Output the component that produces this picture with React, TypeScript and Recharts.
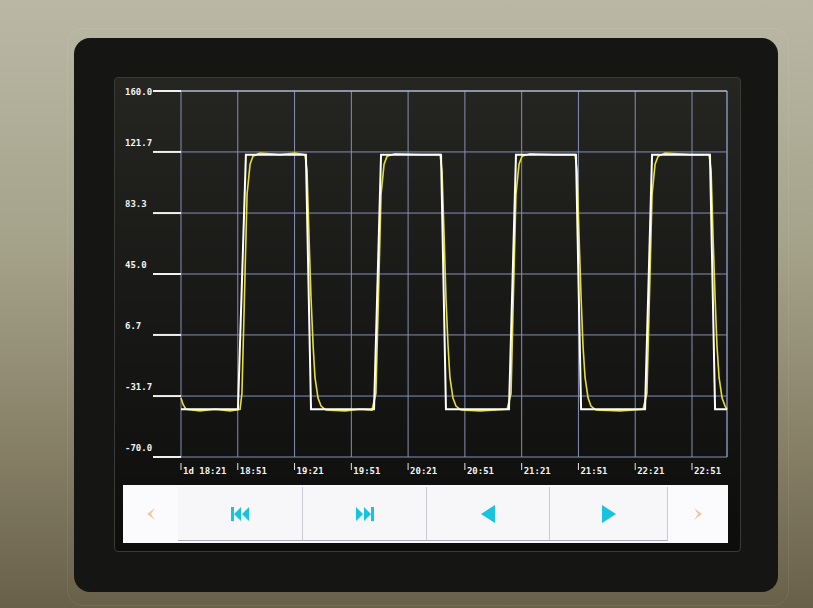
import React from 'react';
import { LineChart, Line, XAxis, YAxis, CartesianGrid, ReferenceLine } from 'recharts';

// time axis: one grid step = 30
const xTicks = [0, 30, 60, 90, 120, 150, 180, 210, 240, 270];
const xTickLabels = ['1d 18:21', '18:51', '19:21', '19:51', '20:21', '20:51', '21:21', '21:51', '22:21', '22:51'];
const yTicks = [-70, -31.7, 6.7, 45, 83.3, 121.7, 160];
const yTickLabels = ['-70.0', '-31.7', '6.7', '45.0', '83.3', '121.7', '160.0'];

// setpoint (white)
const spTimes = [0, 30.1, 34.3, 66.0, 68.7, 102.0, 105.7, 137.4, 140.0, 173.3, 177.0, 208.7, 211.4, 245.2, 248.9, 279.5, 282.2, 288.5];
const spValues = [-40, -40, 120, 120, -40, -40, 120, 120, -40, -40, 120, 120, -40, -40, 120, 120, -40, -40];

// process value (yellow)
const pvTimes = [
  0, 1.1, 2.6, 10.0, 18.0, 25.9, 31.2, 32.2, 33.3, 34.9, 36.5, 38.0, 41.7, 52.3, 60.2, 65.5,
  66.6, 67.6, 68.7, 69.8, 70.8, 72.4, 74.0, 76.6, 86.7, 94.6, 100.9,
  103.0, 104.1, 105.7, 107.3, 108.9, 113.1, 126.3, 136.9,
  137.9, 139.0, 140.0, 141.1, 142.1, 143.7, 145.3, 148.0, 158.0, 172.3,
  174.4, 175.4, 177.0, 178.6, 180.2, 184.4, 197.6, 208.2,
  209.3, 210.3, 211.4, 212.4, 213.5, 215.1, 216.6, 219.3, 232.0, 244.1,
  246.2, 247.3, 248.9, 250.5, 252.1, 255.8, 269.0, 279.0,
  280.1, 281.1, 282.2, 283.2, 284.3, 285.9, 287.5, 288.5,
];
const pvValues = [
  -33, -37, -40, -41, -40, -41, -40, -30, 20, 95, 114, 119, 121, 120, 121, 120,
  110, 70, 30, 0, -20, -33, -38, -40.5, -41, -40, -40.5,
  -30, 20, 95, 114, 119, 120.5, 120, 120,
  110, 70, 30, 0, -20, -33, -38, -40.5, -41, -40,
  -30, 20, 95, 114, 119, 120.5, 120, 120,
  110, 70, 30, 0, -20, -33, -38, -40.5, -41, -40,
  -30, 20, 95, 114, 119, 121, 120, 120,
  110, 70, 30, 0, -20, -33, -38, -40,
];

const spData = spTimes.map((t, i) => ({ t, v: spValues[i] }));
const pvData = pvTimes.map((t, i) => ({ t, v: pvValues[i] }));

const MONO = '"DejaVu Sans Mono", monospace';

const YTick = (props: any) => {
  const { y, index } = props;
  const top = index === yTicks.length - 1;
  return (
    <text x={10} y={top ? y + 4 : y - 6} fill="#f4f4f4" fontSize={9} fontWeight="bold" fontFamily={MONO} textAnchor="start">
      {yTickLabels[index]}
    </text>
  );
};

const XTick = (props: any) => {
  const { x, y, index } = props;
  return (
    <g>
      <line x1={x} x2={x} y1={y - 2} y2={y + 5} stroke="#e8e8e8" strokeWidth={1} />
      <text x={x + 2} y={y + 9} fill="#f4f4f4" fontSize={9} fontWeight="bold" fontFamily={MONO} textAnchor="start">
        {xTickLabels[index]}
      </text>
    </g>
  );
};

const Arrow = ({ dir }: { dir: 'left' | 'right' }) => (
  <svg width={12} height={14} viewBox="0 0 12 14">
    <path d={dir === 'left' ? 'M10 1 L2 7 L10 13 L6 7 Z' : 'M2 1 L10 7 L2 13 L6 7 Z'} fill="#f2c99e" />
  </svg>
);

const Icon = ({ kind }: { kind: 'first' | 'last' | 'prev' | 'next' }) => {
  const c = '#17c4e0';
  if (kind === 'first')
    return (
      <svg width={20} height={16} viewBox="0 0 20 16">
        <rect x={1} y={1} width={3} height={14} fill={c} />
        <path d="M11 1 L4 8 L11 15 Z M19 1 L12 8 L19 15 Z" fill={c} />
      </svg>
    );
  if (kind === 'last')
    return (
      <svg width={20} height={16} viewBox="0 0 20 16">
        <path d="M1 1 L8 8 L1 15 Z M9 1 L16 8 L9 15 Z" fill={c} />
        <rect x={16} y={1} width={3} height={14} fill={c} />
      </svg>
    );
  if (kind === 'prev')
    return (
      <svg width={16} height={18} viewBox="0 0 16 18">
        <path d="M15 0 L1 9 L15 18 Z" fill={c} />
      </svg>
    );
  return (
    <svg width={16} height={18} viewBox="0 0 16 18">
      <path d="M1 0 L15 9 L1 18 Z" fill={c} />
    </svg>
  );
};

const btn = (left: number, width: number): React.CSSProperties => ({
  position: 'absolute',
  left,
  top: 2,
  width,
  height: 54,
  background: '#f7f7f9',
  borderRight: '1px solid #c9cad4',
  borderBottom: '1px solid #a9abb8',
  display: 'flex',
  alignItems: 'center',
  justifyContent: 'center',
  boxSizing: 'border-box',
});

export default function App() {
  return (
    <div
      style={{
        position: 'fixed',
        left: 0,
        top: 0,
        width: 813,
        height: 608,
        overflow: 'hidden',
        background: 'linear-gradient(180deg, #bab7a5 0%, #a6a38b 40%, #857e65 75%, #686049 100%)',
      }}
    >
      <div style={{ position: 'absolute', left: 67, top: 28, width: 720, height: 576, border: '1px solid rgba(255,255,255,0.07)', borderRadius: 16 }} />
      <div style={{ position: 'absolute', left: 74, top: 38, width: 704, height: 554, background: '#151513', borderRadius: 16 }} />
      <div
        style={{
          position: 'absolute',
          left: 114,
          top: 77,
          width: 627,
          height: 475,
          borderRadius: 4,
          border: '1px solid #3a3a37',
          boxSizing: 'border-box',
          background: 'linear-gradient(180deg, #252522 0%, #191917 45%, #0d0d0c 100%)',
        }}
      />
      <div style={{ position: 'absolute', left: 115, top: 78 }}>
        <LineChart width={625} height={405} margin={{ top: 13, right: 13, left: 0, bottom: 0 }}>
          <CartesianGrid stroke="#8590b4" strokeWidth={1} />
          <XAxis
            type="number"
            dataKey="t"
            domain={[0, 288.5]}
            ticks={xTicks}
            interval={0}
            height={26}
            axisLine={false}
            tickLine={false}
            tick={<XTick />}
          />
          <YAxis
            type="number"
            domain={[-70, 160]}
            ticks={yTicks}
            interval={0}
            width={66}
            axisLine={false}
            tickSize={28}
            tickLine={{ stroke: '#f0f0f0', strokeWidth: 2 }}
            tick={<YTick />}
          />
          <ReferenceLine x={288.5} stroke="#8590b4" />
          <ReferenceLine y={160} stroke="#c8cce0" />
          <Line data={pvData} dataKey="v" type="linear" stroke="#e6df2c" strokeWidth={1.6} dot={false} isAnimationActive={false} />
          <Line data={spData} dataKey="v" type="linear" stroke="#ffffff" strokeWidth={2} dot={false} isAnimationActive={false} />
        </LineChart>
      </div>
      <div style={{ position: 'absolute', left: 123, top: 485, width: 605, height: 58, background: '#fbfbfd' }}>
        <div style={{ position: 'absolute', left: 0, top: 0, width: 55, height: 58, display: 'flex', alignItems: 'center', justifyContent: 'center' }}>
          <Arrow dir="left" />
        </div>
        <div style={btn(55, 125)}>
          <Icon kind="first" />
        </div>
        <div style={btn(180, 124)}>
          <Icon kind="last" />
        </div>
        <div style={btn(304, 123)}>
          <Icon kind="prev" />
        </div>
        <div style={btn(427, 118)}>
          <Icon kind="next" />
        </div>
        <div style={{ position: 'absolute', left: 545, top: 0, width: 60, height: 58, display: 'flex', alignItems: 'center', justifyContent: 'center' }}>
          <Arrow dir="right" />
        </div>
      </div>
    </div>
  );
}
